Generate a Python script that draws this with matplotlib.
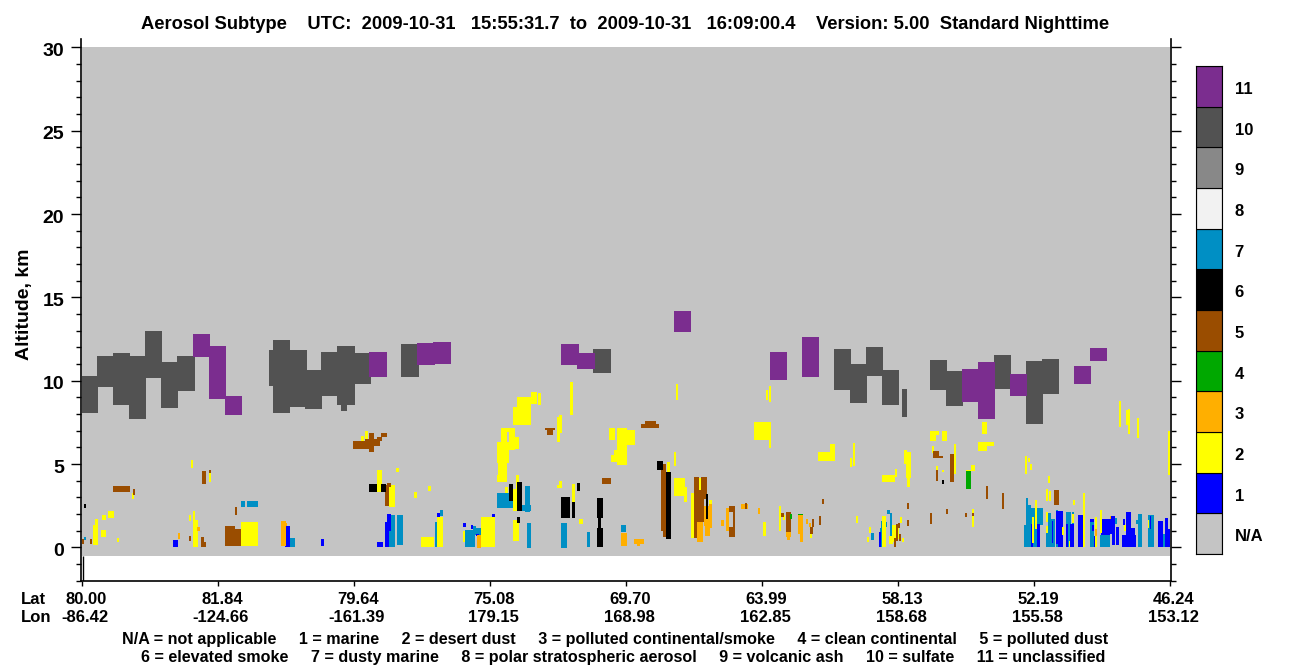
import matplotlib
matplotlib.use('Agg')
import matplotlib.pyplot as plt
from matplotlib.transforms import ScaledTranslation

plt.rcParams['font.family'] = ['Liberation Sans', 'DejaVu Sans']
plt.rcParams['font.weight'] = 'bold'

W, H = 1300, 667

# along-track position runs 0..1088 between the first and last tick, altitude in km
# each layer: (start, end, base, top)
sulfate = [
    (0, 16, 8.04, 10.26), (15, 31, 9.6, 11.46), (31, 48, 8.52, 11.64), (47, 64, 7.68, 11.46),
    (63, 80, 10.14, 12.96), (79, 96, 8.34, 11.1), (95, 113, 9.36, 11.46),
    (187, 208, 9.66, 11.82), (191, 208, 8.04, 12.42), (207, 225, 8.4, 11.82), (223, 240, 8.28, 10.62),
    (239, 256, 9.06, 11.7), (255, 273, 8.52, 12.06), (259, 265, 8.16, 8.52), (273, 289, 9.78, 11.64),
    (319, 337, 10.2, 12.18), (511, 529, 10.44, 11.88),
    (752, 769, 9.42, 11.88), (768, 785, 8.64, 10.98), (784, 801, 10.26, 12.0), (800, 817, 8.52, 10.62),
    (820, 825, 7.8, 9.48), (848, 865, 9.42, 11.22), (864, 881, 8.46, 10.56),
    (912, 929, 9.48, 11.52), (944, 961, 7.38, 11.16), (960, 977, 9.18, 11.28),
]
unclassified = [
    (111, 128, 11.4, 12.78), (127, 144, 8.88, 12.06), (143, 160, 7.92, 9.06), (287, 305, 10.2, 11.7),
    (335, 353, 10.92, 12.24), (351, 369, 10.98, 12.3), (479, 497, 10.92, 12.18), (495, 513, 10.68, 11.64),
    (592, 609, 12.9, 14.16), (688, 705, 10.02, 11.7), (720, 737, 10.2, 12.6),
    (880, 897, 8.7, 10.68), (896, 913, 7.68, 11.1), (928, 945, 9.06, 10.38),
    (992, 1009, 9.78, 10.86), (1008, 1025, 11.16, 11.94),
]
dusty_marine = [
    (2, 4, 0.42, 0.6), (159, 163, 2.4, 2.76), (165, 176, 2.4, 2.76), (207, 213, 0, 0.54),
    (307, 313, 0, 1.92), (315, 321, 0.12, 1.92), (353, 355, 0, 1.5), (358, 361, 1.86, 2.22),
    (383, 393, 0, 1.02), (393, 399, 0.72, 1.14), (391, 394, 0.8, 1.26), (415, 431, 2.34, 3.24),
    (443, 448, 2.1, 3.66), (439, 449, 2.16, 2.52), (445, 449, -0.06, 1.44), (479, 485, -0.06, 1.44),
    (505, 508, 0, 0.9), (539, 544, 0.9, 1.32),
    (789, 792, 0.42, 0.84), (798, 802, 0, 1.14), (799, 802, 1.14, 1.56), (803, 805, 1.2, 1.5),
    (805, 808, 1.98, 2.22), (808, 810, 0.18, 2.04),
    (942, 946, 0, 1.32), (944, 946, 1.32, 2.94), (946, 961, 1.32, 2.34), (946, 949, 2.34, 2.52),
    (946, 958, 0, 1.32), (964, 973, 0, 0.84), (966, 973, 0.84, 1.68), (966, 969, 1.68, 2.04),
    (974, 976, 0, 2.22), (984, 989, 0, 2.1), (990, 992, 0, 2.1), (997, 1000, 0, 0.54),
    (1008, 1012, 0, 1.5), (1018, 1028, 0, 0.72), (1033, 1035, 1.38, 1.74), (1030, 1033, 0.12, 1.38),
    (1056, 1060, 0, 1.98), (1054, 1060, 1.38, 1.62), (1066, 1072, 0, 1.92), (1080, 1084, 0, 0.78),
]
marine = [
    (91, 96, 0, 0.42), (203, 208, 0, 1.26), (239, 242, 0.06, 0.48), (295, 301, 0, 0.3),
    (303, 307, 0, 1.5), (305, 309, 1.0, 1.98), (355, 358, 1.8, 2.04), (381, 384, 1.2, 1.44),
    (410, 413, 1.8, 1.98), (389, 391, 1.08, 1.32), (394, 397, 0.66, 0.78),
    (797, 799, 0, 0.9),
    (949, 951, 0, 1.38), (955, 958, 0, 1.38), (970, 971, 0.24, 1.56),
    (974, 981, 0.18, 2.16), (976, 981, 0, 1.2), (984, 986, 0, 1.38), (988, 992, 0, 1.38),
    (996, 1001, 0, 1.92), (1008, 1012, 1.5, 1.68), (1010, 1012, 1.0, 1.32), (1012, 1015, 0, 0.68),
    (1019, 1028, 0.72, 1.68), (1028, 1033, 0.78, 1.86), (1030, 1033, 0.12, 0.78), (1034, 1037, 0.12, 1.2),
    (1040, 1054, 0, 0.72), (1044, 1049, 0, 2.1), (1041, 1043, 1.32, 1.68), (1048, 1053, 0, 1.14),
    (1068, 1069, 1.08, 1.86), (1076, 1081, 0, 1.56), (1083, 1086, 0, 1.74), (1084, 1088, 0, 1.08),
]
desert_dust = [
    (109, 111, 4.74, 5.22), (127, 129, 3.9, 4.44), (11, 16, 0.12, 1.32), (13, 16, 0.48, 1.68),
    (20, 24, 1.62, 1.96), (19, 24, 0.6, 1.02), (26, 32, 1.74, 2.16), (35, 37, 0.3, 0.54),
    (50, 52, 2.88, 3.24), (107, 109, 1.56, 1.92), (111, 113, 0, 2.16), (111, 116, 0, 1.62),
    (159, 171, 0.06, 1.5), (159, 176, 0.96, 1.5), (171, 176, 0.06, 0.96),
    (279, 282, 6.18, 6.66), (283, 286, 6.36, 6.96), (295, 300, 3.3, 4.62), (314, 317, 4.5, 4.74),
    (332, 335, 2.94, 3.3), (307, 313, 2.4, 3.72),
    (339, 352, 0, 0.6), (355, 361, 0, 1.8), (346, 349, 3.36, 3.66), (399, 413, 0, 1.8),
    (381, 383, 0.3, 1.0), (431, 437, 0.36, 1.62), (415, 425, 3.9, 4.32), (416, 425, 4.32, 5.88),
    (415, 427, 5.04, 6.3), (419, 425, 5.88, 7.14), (419, 433, 6.9, 7.14), (427, 433, 5.82, 6.9),
    (433, 437, 5.88, 6.6), (431, 449, 7.32, 8.4), (435, 449, 8.28, 9.0), (449, 455, 8.58, 9.3),
    (456, 459, 8.52, 9.24), (488, 491, 7.92, 9.9), (477, 480, 6.84, 7.92), (475, 478, 6.3, 7.8),
    (527, 533, 6.42, 7.14), (535, 545, 4.92, 7.14), (545, 553, 6.12, 7.02), (532, 535, 5.1, 5.82),
    (529, 533, 5.1, 5.52), (594, 596, 8.82, 9.78), (592, 594, 4.86, 5.7), (585, 588, 4.44, 5.1),
    (592, 603, 3.06, 4.14), (602, 605, 2.7, 3.6), (672, 689, 6.42, 7.5), (687, 689, 5.94, 6.42),
    (684, 686, 8.82, 9.42), (687, 689, 8.7, 9.66), (736, 738, 5.16, 5.7),
    (477, 480, 3.54, 3.96), (475, 480, 3.54, 3.72), (490, 493, 2.7, 3.78), (497, 501, 1.38, 1.68),
    (434, 437, 2.16, 4.32), (431, 435, 2.16, 3.48), (423, 426, 3.24, 3.6), (609, 612, 0.54, 3.24),
    (617, 619, 3.42, 4.14), (627, 630, 2.58, 2.82), (681, 684, 0.66, 1.5), (697, 699, 0.96, 2.46),
    (701, 703, 1.62, 1.92), (728, 730, 0.54, 1.2),
    (738, 753, 5.16, 5.7), (748, 753, 5.16, 6.18), (768, 770, 4.8, 5.34), (771, 773, 4.86, 6.24),
    (800, 813, 3.9, 4.32), (813, 815, 4.2, 4.68), (824, 829, 4.14, 5.7), (822, 825, 4.98, 5.82),
    (825, 828, 3.6, 4.14), (848, 857, 6.72, 6.96), (848, 854, 6.36, 6.72), (860, 865, 6.36, 6.96),
    (850, 852, 5.64, 6.06), (872, 874, 4.38, 6.18), (900, 905, 6.78, 7.5), (896, 905, 5.76, 6.3),
    (905, 912, 6.06, 6.3), (889, 893, 4.56, 4.92), (884, 889, 4.44, 4.62), (854, 856, 4.56, 4.86),
    (860, 862, 4.5, 4.62), (943, 945, 4.38, 5.46), (946, 948, 5.1, 5.34), (948, 950, 4.62, 4.98),
    (966, 968, 3.84, 4.26), (964, 966, 2.76, 3.48), (967, 969, 2.76, 3.36),
    (1037, 1039, 7.2, 8.76), (1044, 1048, 7.32, 8.22), (1046, 1048, 6.78, 8.28), (1055, 1057, 6.54, 7.74),
    (1086, 1088, 4.32, 6.96), (991, 993, 2.52, 2.82), (774, 776, 1.44, 1.86), (890, 892, 1.2, 2.28),
    (920, 922, 2.52, 2.82),
    (785, 787, 0.3, 0.6), (787, 789, 0.84, 1.2), (800, 804, 0, 1.86), (810, 814, 0.3, 1.32),
    (807, 811, 0.18, 0.66), (815, 817, 0.48, 1.36), (818, 820, 1.44, 1.8), (820, 822, 0.3, 0.54),
    (950, 952, 0.24, 1.8), (953, 955, 1.08, 2.82), (964, 966, 1.5, 2.1), (964, 966, 0.84, 1.26),
    (980, 982, 0.72, 1.2), (990, 992, 1.48, 1.98), (987, 988, 0, 0.36), (1001, 1003, 0, 3.24),
    (1013, 1015, 0, 1.8), (1018, 1020, 0.88, 2.22), (1042, 1044, 1.0, 1.32), (1066, 1067, 1.14, 1.62),
]
polluted_dust = [
    (31, 48, 3.3, 3.66), (51, 53, 3.12, 3.48), (8, 10, 0.18, 0.48), (120, 124, 3.78, 4.56),
    (127, 129, 4.44, 4.62), (153, 155, 1.92, 2.4), (107, 109, 0.36, 0.66), (119, 122, 0, 0.6),
    (121, 124, 0, 0.3), (0, 2, 0.18, 0.48), (143, 153, 0.06, 1.26), (153, 159, 0.06, 1.08),
    (271, 283, 5.88, 6.36), (287, 292, 5.7, 6.84), (283, 292, 5.88, 6.48), (292, 298, 6.06, 6.48),
    (295, 300, 6.36, 6.6), (299, 305, 6.6, 6.84), (303, 307, 2.46, 3.72), (305, 309, 3.6, 3.84),
    (463, 473, 7.02, 7.14), (465, 471, 6.72, 7.02), (520, 529, 3.78, 4.14), (559, 577, 7.14, 7.38),
    (563, 574, 7.38, 7.56), (579, 584, 0.96, 4.98), (581, 589, 0.6, 0.96), (612, 617, 0.54, 4.2),
    (619, 625, 3.42, 4.2), (617, 625, 2.88, 3.42), (617, 622, 1.5, 2.88), (647, 653, 2.1, 2.46),
    (651, 653, 1.2, 2.1), (647, 653, 0.6, 1.2), (704, 709, 0.9, 2.1), (730, 732, 1.2, 1.68),
    (728, 731, 0.78, 1.2), (663, 665, 2.28, 2.64), (699, 702, 1.8, 2.04),
    (851, 857, 5.34, 5.76), (857, 861, 5.34, 5.46), (868, 872, 3.9, 5.58), (854, 856, 3.96, 4.62),
    (904, 906, 2.88, 3.66), (920, 922, 2.28, 3.24), (972, 977, 2.52, 3.42),
    (740, 742, 2.58, 2.88), (737, 739, 1.32, 1.86), (825, 827, 2.28, 2.64), (825, 827, 1.26, 1.62),
    (848, 850, 1.38, 2.04), (864, 866, 1.98, 2.28), (883, 885, 1.8, 2.04), (890, 892, 1.86, 2.04),
    (812, 814, 0, 0.54), (817, 819, 0.36, 0.78), (814, 816, 0.4, 1.38), (816, 818, 1.14, 1.44),
]
polluted_cont = [
    (96, 98, 0.48, 0.84), (115, 118, 0.96, 1.2), (199, 204, 0.06, 1.56), (204, 205, 1.26, 1.44),
    (539, 545, 0.06, 0.84), (552, 562, 0.18, 0.48), (555, 558, 0.06, 0.18), (395, 399, -0.06, 0.72),
    (622, 627, 1.26, 2.46), (627, 630, 1.14, 2.58), (623, 628, 0.66, 1.26), (615, 621, 0.3, 1.5),
    (644, 647, 0.96, 2.34), (639, 642, 1.26, 1.62), (659, 663, 2.28, 2.58), (665, 666, 2.28, 2.58),
    (676, 678, 1.98, 2.34), (716, 721, 0.82, 1.92), (718, 721, 0.3, 0.82), (704, 709, 0.6, 0.9),
    (705, 708, 0.42, 0.6), (724, 726, 1.38, 1.68), (727, 729, 1.2, 1.44),
    (1013, 1015, 0.68, 1.08), (1028, 1029, 1.7, 1.9),
]
elevated_smoke = [
    (2, 4, 2.34, 2.58), (287, 295, 3.3, 3.78), (299, 304, 3.3, 3.78),
    (427, 431, 2.76, 3.78), (435, 440, 2.16, 3.9), (435, 438, 1.44, 1.8), (479, 488, 1.74, 3.0),
    (490, 493, 1.74, 2.7), (495, 498, 3.36, 3.84), (515, 521, 1.74, 2.94), (516, 519, 1.14, 1.74),
    (515, 521, 0, 1.14), (575, 581, 4.62, 5.16), (584, 589, 0.48, 4.5), (624, 626, 1.68, 3.18),
    (860, 862, 3.78, 4.02),
]
clean_cont = [
    (884, 889, 3.48, 4.56), (708, 710, 1.68, 1.98), (716, 721, 1.92, 1.98),
]

# colour bar, bottom to top
class_labels = ['N/A', '1', '2', '3', '4', '5', '6', '7', '8', '9', '10', '11']
class_colors = ['#c4c4c4', '#0000ff', '#ffff00', '#ffaf00', '#00a800', '#9a4d00',
                '#000000', '#008fc4', '#f2f2f2', '#888888', '#525252', '#7b2d8f']

lat_labels = ['80.00', '81.84', '79.64', '75.08', '69.70', '63.99', '58.13', '52.19', '46.24']
lon_labels = ['-86.42', '-124.66', '-161.39', '179.15', '168.98', '162.85', '158.68', '155.58', '153.12']
tick_pos = [0, 136, 272, 408, 544, 680, 816, 952, 1088]

title = 'Aerosol Subtype    UTC:  2009-10-31   15:55:31.7  to  2009-10-31   16:09:00.4    Version: 5.00  Standard Nighttime'
legend1 = 'N/A = not applicable     1 = marine     2 = desert dust     3 = polluted continental/smoke     4 = clean continental     5 = polluted dust'
legend2 = '6 = elevated smoke     7 = dusty marine     8 = polar stratospheric aerosol     9 = volcanic ash     10 = sulfate     11 = unclassified'


def px_axes(fig, x0, y0, x1, y1):
    # pixel box with y measured from the top of the image
    return fig.add_axes([x0 / W, 1 - y1 / H, (x1 - x0) / W, (y1 - y0) / H])


def draw_layers(ax, rows, color):
    x0 = [r[0] for r in rows]
    w = [r[1] - r[0] for r in rows]
    b = [r[2] for r in rows]
    h = [r[3] - r[2] for r in rows]
    ax.bar(x0, h, width=w, bottom=b, align='edge', color=color, linewidth=0, antialiased=False)


fig = plt.figure(figsize=(W / 100, H / 100), dpi=100)
ax = px_axes(fig, 81, 39, 1170.5, 580.7)
ax.set_xlim(-1, 1088.5)
ax.set_ylim(-2, 30.5)

ax.bar([0], [30.5], width=[1088], bottom=[-0.5], align='edge', color=class_colors[0], linewidth=0)
draw_layers(ax, sulfate, class_colors[10])
draw_layers(ax, unclassified, class_colors[11])
draw_layers(ax, dusty_marine, class_colors[7])
draw_layers(ax, marine, class_colors[1])
draw_layers(ax, desert_dust, class_colors[2])
draw_layers(ax, polluted_dust, class_colors[5])
draw_layers(ax, polluted_cont, class_colors[3])
draw_layers(ax, elevated_smoke, class_colors[6])
draw_layers(ax, clean_cont, class_colors[4])
ax.vlines(0.5, -2, -0.5, color='black', linewidth=1)

ax.spines['top'].set_visible(False)
for s in ['left', 'right', 'bottom']:
    ax.spines[s].set_linewidth(1.2)

ax.set_yticks(range(0, 31, 5))
ax.set_yticks(range(-2, 31), minor=True)
ax.set_yticklabels([str(v) for v in range(0, 31, 5)], fontsize=14, fontweight='bold')
ax.tick_params(axis='y', which='major', length=7.5, width=1, left=True, right=True, pad=4.5)
ax.tick_params(axis='y', which='minor', length=3.6, width=1, left=True, right=True)
down_2px = ScaledTranslation(0, -2 / 100, fig.dpi_scale_trans)
for lab in ax.get_yticklabels():
    lab.set_transform(lab.get_transform() + down_2px)
ax.set_xticks(tick_pos)
ax.set_xticklabels([])
ax.tick_params(axis='x', length=3.6, width=1)

for px, lat, lon in zip(tick_pos, lat_labels, lon_labels):
    xf = (px + 82 + 4) / W
    fig.text(xf, 1 - 599.5 / H, lat, ha='center', va='center', fontsize=12, fontweight='bold')
    fig.text(xf - 1 / W, 1 - 618 / H, lon, ha='center', va='center', fontsize=12, fontweight='bold')
fig.text(21 / W, 1 - 599.5 / H, 'Lat', ha='left', va='center', fontsize=12, fontweight='bold')
fig.text(21 / W, 1 - 618 / H, 'Lon', ha='left', va='center', fontsize=12, fontweight='bold')

fig.text(625.5 / W, 1 - 24.5 / H, title, ha='center', va='center', fontsize=13.2, fontweight='bold')
fig.text(122 / W, 1 - 639.5 / H, legend1, ha='left', va='center', fontsize=11.6, fontweight='bold')
fig.text(141 / W, 1 - 657.5 / H, legend2, ha='left', va='center', fontsize=11.65, fontweight='bold')
fig.text(25 / W, 1 - 304 / H, 'Altitude, km', rotation=90, ha='center', va='center', fontsize=14, fontweight='bold')

# colour bar
cax = px_axes(fig, 1196, 66, 1222, 554)
cax.bar([0] * len(class_colors), [1] * len(class_colors), width=1,
        bottom=list(range(len(class_colors))), align='edge', color=class_colors,
        edgecolor='black', linewidth=0.8)
cax.set_xlim(0, 1)
cax.set_ylim(0, len(class_colors))
cax.set_xticks([])
cax.set_yticks([i + 0.46 for i in range(len(class_labels))])
cax.set_yticklabels(class_labels, fontsize=12, fontweight='bold')
cax.yaxis.tick_right()
cax.tick_params(axis='y', length=0, pad=9)
for lab in cax.get_yticklabels():
    lab.set_ha('left')

fig.savefig('out.png', dpi=100)
